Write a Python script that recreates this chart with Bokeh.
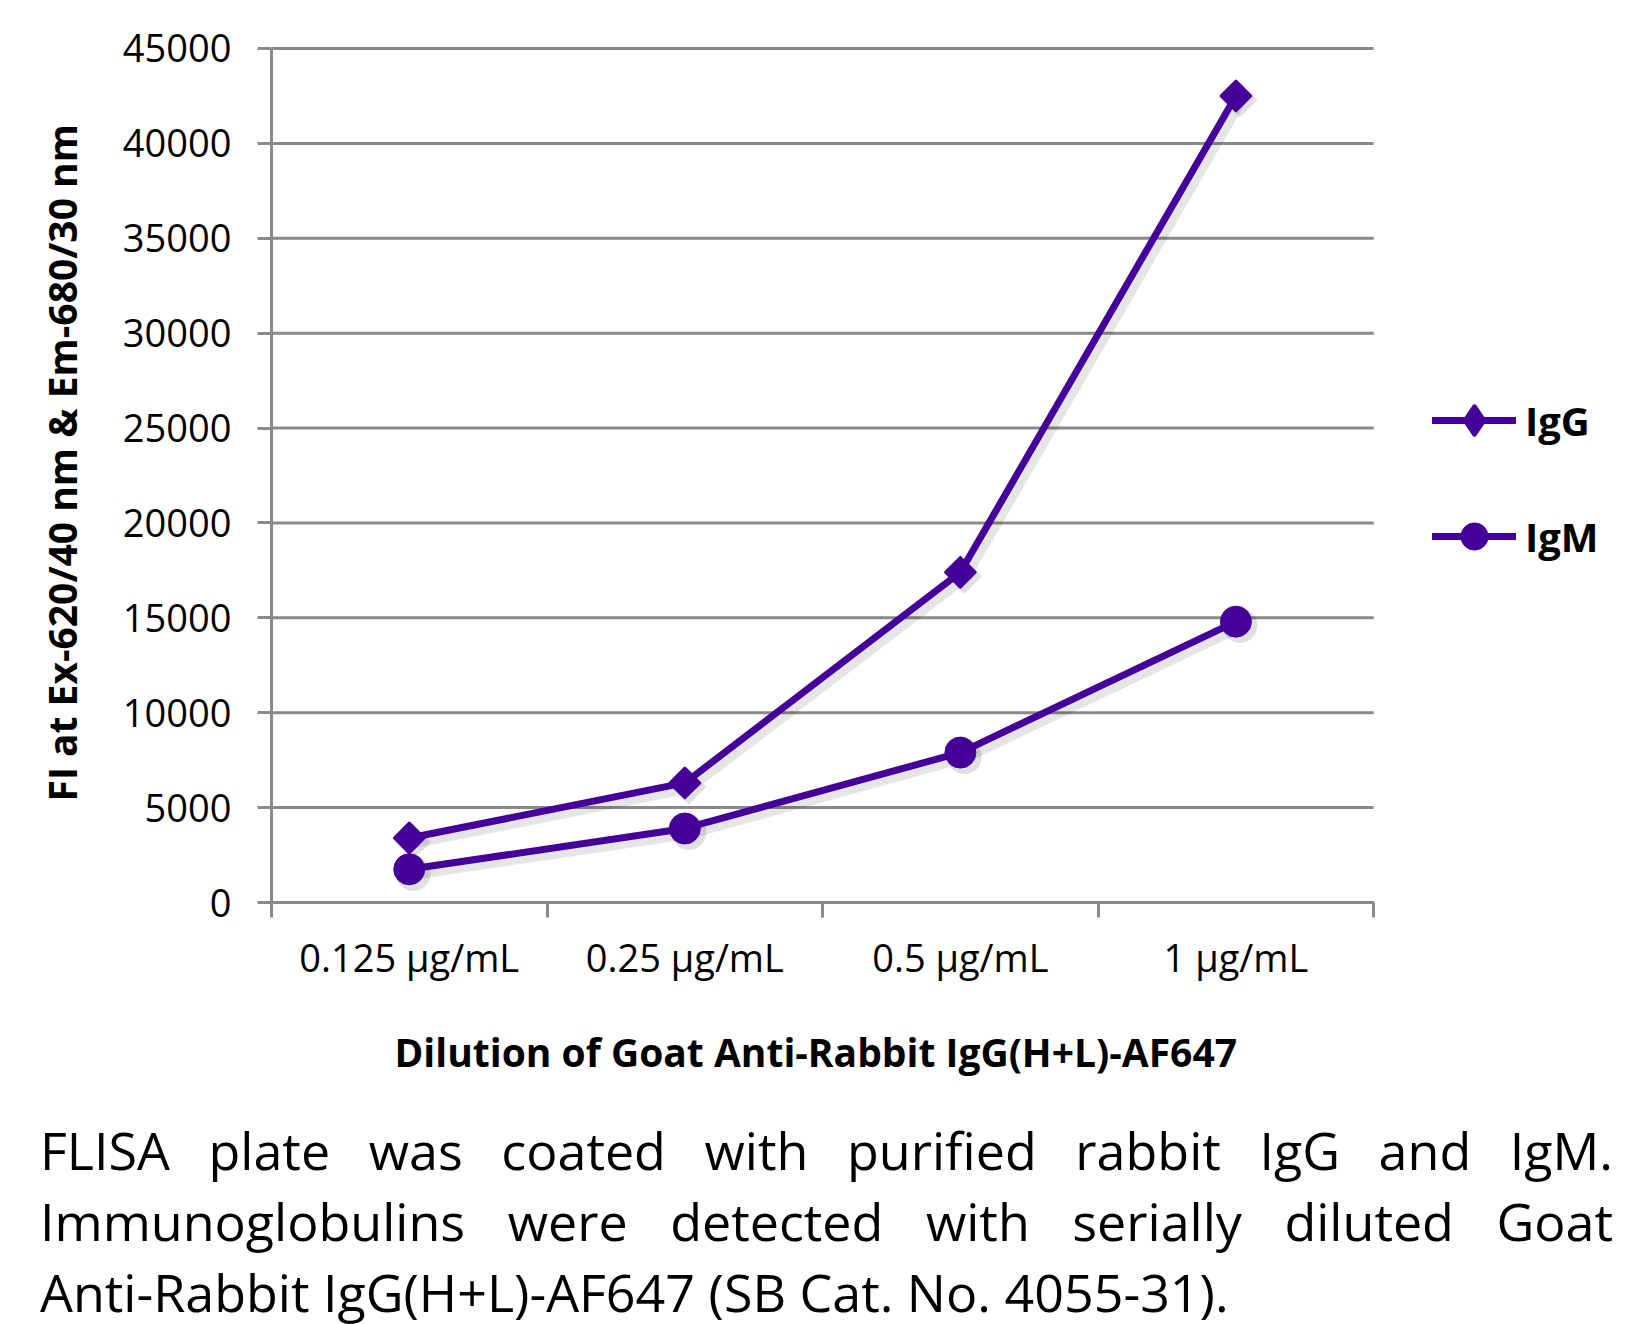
from bokeh.plotting import figure
from bokeh.models import FixedTicker, Legend, LegendItem, Div, Range1d, ColumnDataSource, Title
from bokeh.transform import dodge
from bokeh.layouts import column
from bokeh.embed import file_html
from bokeh.resources import INLINE
import math

# ---- data ----
categories = ["0.125 µg/mL", "0.25 µg/mL", "0.5 µg/mL", "1 µg/mL"]
igg_values = [3400, 6300, 17400, 42500]
igm_values = [1750, 3900, 7900, 14800]
series_names = ["IgG", "IgM"]
y_ticks = [0, 5000, 10000, 15000, 20000, 25000, 30000, 35000, 40000, 45000]
x_title = "Dilution of Goat Anti-Rabbit IgG(H+L)-AF647"
y_title = "FI at Ex-620/40 nm & Em-680/30 nm"
caption = ("FLISA plate was coated with purified rabbit IgG and IgM. "
           "Immunoglobulins were detected with serially diluted Goat "
           "<span style=\"white-space: nowrap\">Anti-Rabbit</span> IgG(H+L)-AF647 (SB Cat. No. 4055-31).")

PURPLE = "#46009A"
GRID = "#8A8A8A"
FONT = "Open Sans"

# layout geometry (pixels)
FIG_W, FIG_H = 1650, 1114
LEFT, TOP, BOTTOM = 270, 46, 211
AXIS_W = 1103          # width of the plotted (axis) area
AXIS_H = 855           # height from 0 to 45000
n = len(categories)
y_max = y_ticks[-1]
frame_w = FIG_W - LEFT
x_end = n * frame_w / AXIS_W
y_end = y_max * (FIG_H - TOP - BOTTOM) / AXIS_H

x_pos = [i + 0.5 for i in range(n)]
src = ColumnDataSource(dict(x=x_pos, igg=igg_values, igm=igm_values))

p = figure(width=FIG_W, height=FIG_H,
           x_range=Range1d(0, x_end), y_range=Range1d(0, y_end),
           output_backend="svg", toolbar_location=None,
           min_border_left=LEFT, min_border_right=0,
           min_border_top=TOP, min_border_bottom=BOTTOM)
p.outline_line_color = None
p.background_fill_color = "white"
p.border_fill_color = "white"
p.xgrid.grid_line_color = None
p.ygrid.grid_line_color = None

# horizontal gridlines limited to the category span
p.segment(x0=0, x1=n, y0=y_ticks, y1=y_ticks, line_color=GRID, line_width=3)

# y axis
ya = p.yaxis[0]
ya.ticker = FixedTicker(ticks=y_ticks)
ya.bounds = (0, y_max)
ya.axis_line_color = GRID
ya.axis_line_width = 3
ya.major_tick_line_color = GRID
ya.major_tick_line_width = 3
ya.major_tick_out = 14
ya.major_tick_in = 0
ya.minor_tick_line_color = None
ya.major_label_standoff = 26
ya.major_label_text_font = FONT
ya.major_label_text_font_size = "38px"
ya.major_label_text_color = "black"

# x axis
xa = p.xaxis[0]
xa.ticker = FixedTicker(ticks=x_pos, minor_ticks=list(range(n + 1)))
xa.bounds = (0, n)
xa.major_label_overrides = {xp: c for xp, c in zip(x_pos, categories)}
xa.axis_line_color = GRID
xa.axis_line_width = 3
xa.major_tick_line_color = None
xa.major_tick_out = 15
xa.major_tick_in = 0
xa.minor_tick_line_color = GRID
xa.minor_tick_line_width = 3
xa.minor_tick_out = 15
xa.minor_tick_in = 0
xa.major_label_standoff = 13
xa.major_label_text_font = FONT
xa.major_label_text_font_size = "38px"
xa.major_label_text_color = "black"

# axis titles as side-panel titles (positioned along the axis span)
xt = Title(text=x_title, align="left", offset=123, standoff=74,
           text_font=FONT, text_font_size="39px", text_font_style="bold", text_color="black")
p.add_layout(xt, "below")
yt = Title(text=y_title, align="left", offset=101, standoff=64,
           text_font=FONT, text_font_size="39px", text_font_style="bold", text_color="black")
p.add_layout(yt, "left")

# soft drop shadows (offset ~4px right / down)
dx = 4 / AXIS_W * n
dy = -4 / AXIS_H * y_max
for field in ("igg", "igm"):
    p.line(x=dodge("x", dx, range=p.x_range), y=dodge(field, dy, range=p.y_range), source=src,
           line_color="black", line_alpha=0.10, line_width=13, line_join="round", line_cap="round")
p.scatter(x=dodge("x", dx, range=p.x_range), y=dodge("igg", dy, range=p.y_range), source=src,
          marker="square", size=25, angle=math.pi / 4, fill_color="black", fill_alpha=0.12,
          line_color=None)
p.scatter(x=dodge("x", dx, range=p.x_range), y=dodge("igm", dy, range=p.y_range), source=src,
          marker="circle", size=35, fill_color="black", fill_alpha=0.12, line_color=None)

# series
l1 = p.line("x", "igg", source=src, line_color=PURPLE, line_width=7, line_join="round", line_cap="round")
s1 = p.scatter("x", "igg", source=src, marker="square", size=21, angle=math.pi / 4,
               fill_color=PURPLE, line_color=PURPLE, line_width=3, line_join="round")
l2 = p.line("x", "igm", source=src, line_color=PURPLE, line_width=7, line_join="round", line_cap="round")
s2 = p.scatter("x", "igm", source=src, marker="circle", size=31,
               fill_color=PURPLE, line_color=PURPLE, line_width=1)

# legend-only diamond glyph (legend markers are drawn unrotated)
leg_diamond = p.scatter("x", "igg", source=src, marker="diamond", fill_color=PURPLE,
                        line_color=PURPLE, line_width=5, line_join="round", visible=False)

legend = Legend(items=[LegendItem(label=series_names[0], renderers=[l1, leg_diamond]),
                       LegendItem(label=series_names[1], renderers=[l2, s2])],
                location=(1161, 332), glyph_width=84, glyph_height=68,
                label_height=68, spacing=48, padding=0, margin=0,
                border_line_color=None, background_fill_alpha=0,
                label_standoff=9, label_text_font=FONT,
                label_text_font_size="40px", label_text_font_style="bold",
                label_text_color="black")
p.add_layout(legend)

div = Div(text=(f'<div style="font-family: \'{FONT}\'; font-size: 52px; line-height: 71px; '
                f'text-align: justify; color: black; width: 1573px;">{caption}</div>'),
          width=1573, margin=(0, 0, 0, 40))

layout = column(p, div, spacing=0)
open("out.html", "w").write(file_html(layout, INLINE))
